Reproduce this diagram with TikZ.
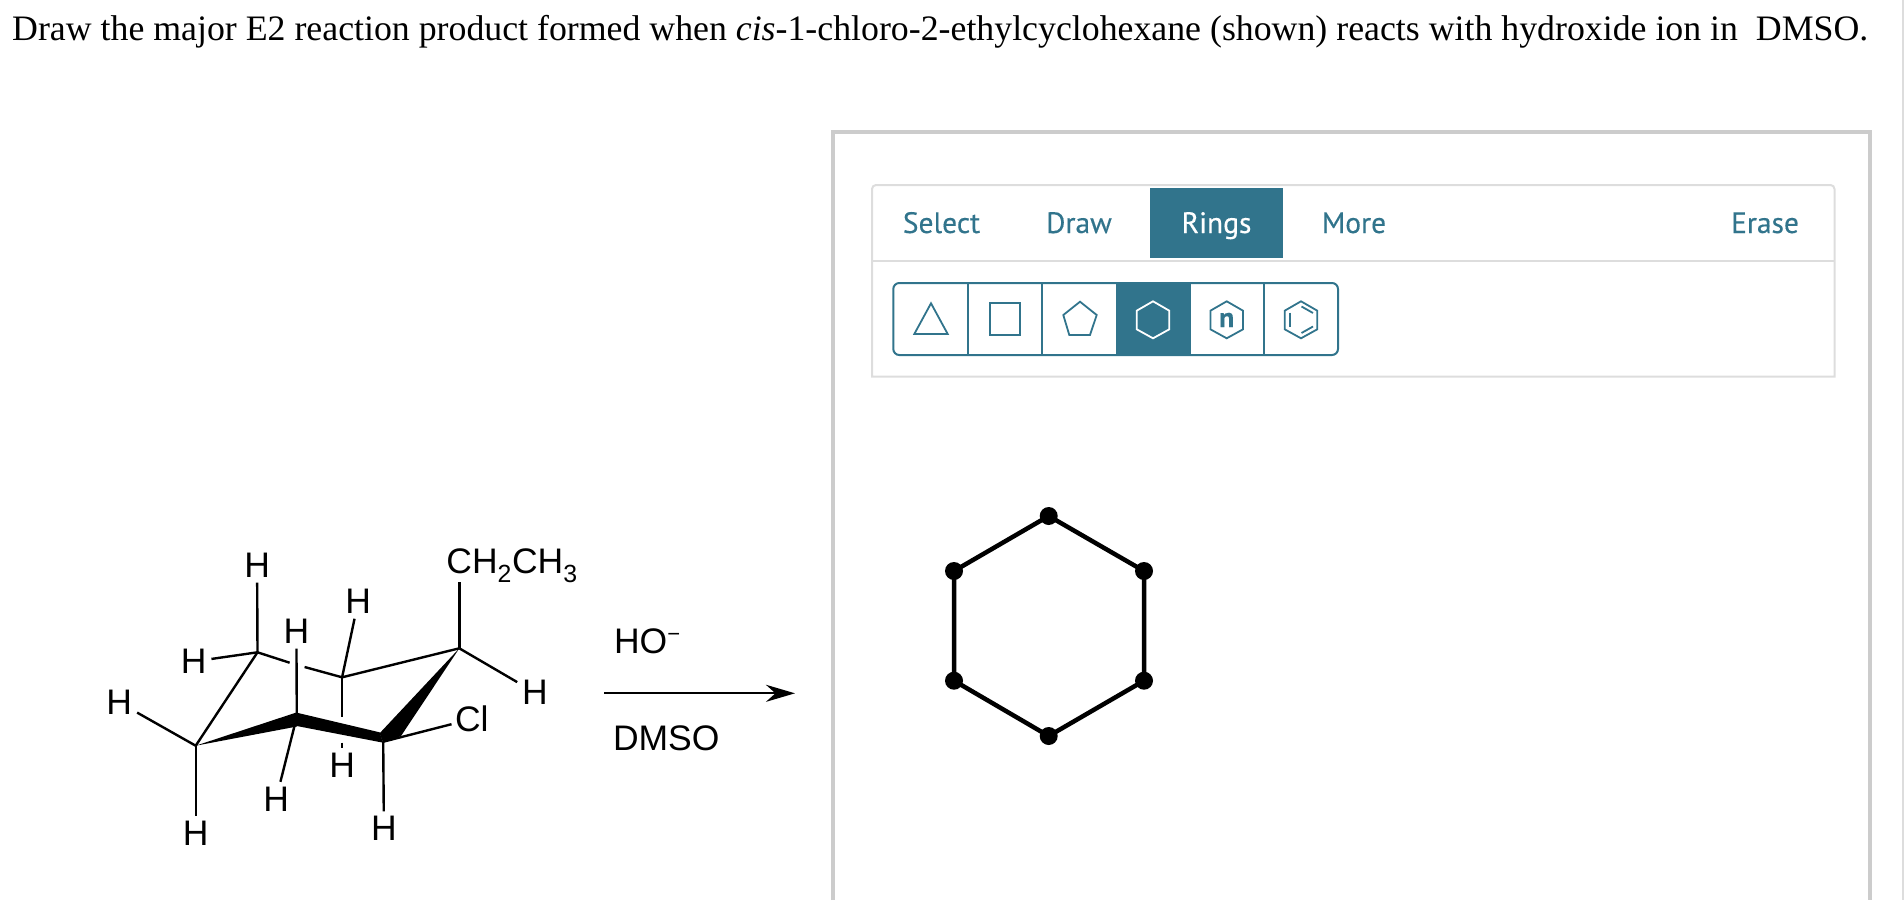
\documentclass[tikz,border=0pt]{standalone}
\usepackage{fontspec}
\setmainfont{Liberation Serif}
\newfontfamily\chemfont{Liberation Sans}
\newfontfamily\uifont[FakeBold=0.3]{PT Sans}
\usetikzlibrary{%
  arrows.meta,%
  calc%
}
\definecolor{tealui}{HTML}{31748C}
\definecolor{grayline}{HTML}{DDDDDD}
\definecolor{grayframe}{HTML}{CCCCCC}
\tikzset{
  atomlabel/.style={font=\chemfont\fontsize{35.5}{36}\selectfont,inner sep=5pt,outer sep=0pt},
  bond/.style={line width=2.4pt},
  tablabel/.style={font=\uifont\fontsize{29.5}{32}\selectfont,text=tealui,inner sep=0pt,anchor=base},
  iconline/.style={draw=tealui,line width=1.8pt,line join=miter}
}
\begin{document}
\begin{tikzpicture}[x=1pt,y=-1pt]
  \useasboundingbox (0,0) rectangle (1904,900);
  % question
  \node [anchor=base west,inner sep=0pt,font=\fontsize{35.8}{40}\selectfont] (question) at (12,40.5)
    {Draw the major E2 reaction product formed when \textit{cis}-1-chloro-2-ethylcyclohexane (shown) reacts with hydroxide ion in\ \ DMSO.};
  % ring carbons
  \coordinate (cA) at (257.5,652.3);
  \coordinate (cB) at (342.1,677.3);
  \coordinate (cC) at (459.3,648.3);
  \coordinate (cD) at (383.2,741.7);
  \coordinate (cE) at (296.8,716.7);
  \coordinate (cF) at (195.7,745.7);
  \coordinate (gapL) at (289.6,662.7);
  \coordinate (gapR) at (304.6,667);
  \coordinate (gapT) at (342.1,717.3);
  \coordinate (gapB) at (342.1,742.7);
  % substituents
  \node [atomlabel] (hAup) at (257.1,565.5) {H};
  \node [atomlabel] (hAleft) at (193.6,661.5) {H};
  \node [atomlabel] (hFleft) at (119.3,702.5) {H};
  \node [atomlabel] (hFdown) at (195.7,833.5) {H};
  \node [atomlabel] (hEup) at (296.4,631.5) {H};
  \node [atomlabel] (hEdown) at (276.1,799) {H};
  \node [atomlabel] (hBup) at (358.2,601.5) {H};
  \node [atomlabel] (hBdown) at (342.1,765.5) {H};
  \node [atomlabel] (hDdown) at (383.9,828.5) {H};
  \node [atomlabel] (hCright) at (535,692.5) {H};
  \node [atomlabel,inner sep=3.5pt] (chlorine) at (471.8,719) {Cl};
  \node [atomlabel,anchor=base,inner sep=0pt] (ethyl) at (512,573.3) {CH\textsubscript{2}CH\textsubscript{3}};
  % ring
  \draw [bond] (cA) -- (gapL);
  \draw [bond] (gapR) -- (cB);
  \draw [bond] (cB) -- (cC);
  \draw [bond,line join=bevel] (cF) -- (cA);
  \fill (cF) -- (297,712.3) -- (297,726.5) -- cycle;
  \fill (296.8,712.7) -- (379.6,732.3) -- (383.2,742.7) -- (296.8,726) -- cycle;
  \fill (cC) -- (379.6,733.3) -- (383.2,742.7) -- (401,736) -- cycle;
  % bonds out of the ring
  \draw [bond] (cA) -- (hAup);
  \draw [bond] (cA) -- (hAleft);
  \draw [bond] (cF) -- (hFleft);
  \draw [bond] (cF) -- (hFdown);
  \draw [bond] (cE) -- (hEup);
  \draw [bond] (cE) -- (hEdown);
  \draw [bond] (cB) -- (hBup);
  \draw [bond] (cB) -- (gapT);
  \draw [bond] (gapB) -- (hBdown);
  \draw [bond] (cD) -- (hDdown);
  \draw [bond] (cD) -- (chlorine);
  \draw [bond] (cC) -- (hCright);
  \draw [bond] (cC) -- (ethyl.south -| cC);
  % reaction arrow
  \node [atomlabel,anchor=base west,inner sep=0pt] (reagent) at (614,653.3) {HO\raisebox{12pt}{\fontsize{22}{22}\selectfont −}};
  \node [atomlabel,anchor=base west,inner sep=0pt] (solvent) at (613,750.7) {DMSO};
  \coordinate (arrowL) at (604,693.3);
  \coordinate (arrowR) at (795,693.3);
  \draw [-{Stealth[length=29pt,width=17pt]},line width=2.2pt] (arrowL) -- (arrowR);
  % answer panel
  \draw [draw=grayframe,line width=4pt] (833,900) -- (833,132) -- (1870,132) -- (1870,900);
  \fill [grayline] (1902,0) rectangle (1904,900);
  \draw [draw=grayline,line width=2pt] (872,376.7) [rounded corners=4pt] -- (872,185) -- (1834.5,185) [sharp corners] -- (1834.5,376.7) -- cycle;
  \draw [draw=grayline,line width=2pt] (872,260.7) -- (1834.5,260.7);
  \fill [tealui] (1150,188) rectangle (1283,258);
  \node [tablabel] (tabselect) at (941.5,233) {Select};
  \node [tablabel] (tabdraw) at (1079,233) {Draw};
  \node [tablabel,text=white] (tabrings) at (1216.5,233) {Rings};
  \node [tablabel] (tabmore) at (1354,233) {More};
  \node [tablabel] (taberase) at (1765,233) {Erase};
  % ring buttons
  \fill [tealui] (1115.7,283) rectangle (1190.7,355);
  \draw [draw=tealui,line width=2pt,rounded corners=6pt] (893.3,283) rectangle (1338,355);
  \foreach \xline in {968.3,1042.3,1264} {
    \draw [draw=tealui,line width=2pt] (\xline,283) -- (\xline,355);
  }
  \draw [iconline] (931,303.3) -- (947.7,334) -- (914.3,334) -- cycle;
  \draw [iconline] (990,302.7) rectangle (1020,335);
  \draw [iconline] (1080,301.7) -- (1096.7,315) -- (1090,335) -- (1069.3,335) -- (1063.3,315) -- cycle;
  \draw [iconline,draw=white] (1153,301.3) -- (1169.3,310.7) -- (1169.3,329.3) -- (1153,338.3) -- (1136.7,329.3) -- (1136.7,310.7) -- cycle;
  \draw [iconline] (1226.7,301.3) -- (1243,310.7) -- (1243,329.3) -- (1226.7,338.3) -- (1210.4,329.3) -- (1210.4,310.7) -- cycle;
  \node [font=\uifont\bfseries\fontsize{28}{28}\selectfont,text=tealui,inner sep=0pt] (iconn) at (1226.7,320) {n};
  \draw [iconline] (1301,301.3) -- (1317.3,310.7) -- (1317.3,329.3) -- (1301,338.3) -- (1284.7,329.3) -- (1284.7,310.7) -- cycle;
  \draw [iconline] (1290,312.7) -- (1290,327);
  \draw [iconline] (1301.5,306.5) -- (1313,313);
  \draw [iconline] (1301.5,333) -- (1313,326.5);
  % cyclohexane on the canvas
  \begin{scope}[line width=4.5pt,every node/.style={circle,fill,inner sep=0pt,minimum size=18pt}]
    \node (r1) at (1048.7,516) {};
    \node (r2) at (1144,571) {};
    \node (r3) at (1144,680.7) {};
    \node (r4) at (1048.7,736) {};
    \node (r5) at (954,680.7) {};
    \node (r6) at (954,571) {};
    \draw (r1.center) -- (r2.center) -- (r3.center) -- (r4.center) -- (r5.center) -- (r6.center) -- (r1.center);
  \end{scope}
\end{tikzpicture}
\end{document}
